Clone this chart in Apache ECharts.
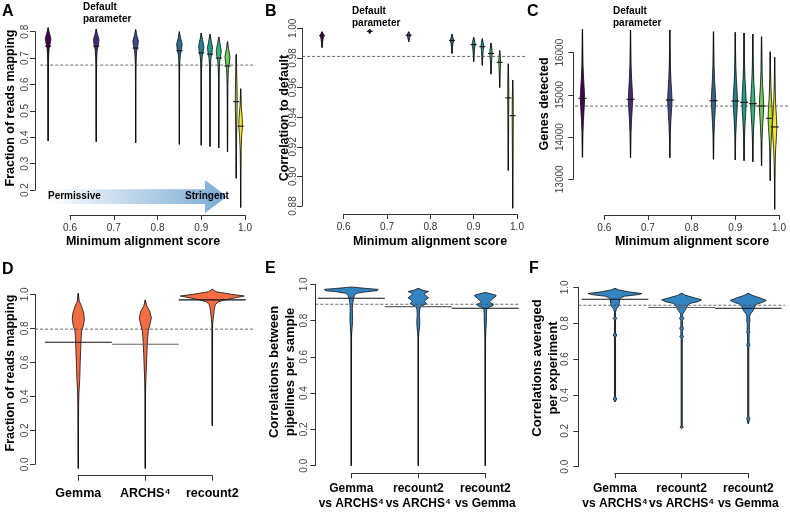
<!DOCTYPE html>
<html><head><meta charset="utf-8">
<script src="https://cdn.jsdelivr.net/npm/echarts@6/dist/echarts.min.js"></script>
<style>html,body{margin:0;padding:0;background:#fff}#c{width:790px;height:513px}</style>
</head><body><div id="c"></div>
<script>
// ---------- DATA ----------
const viridis = ['#440154','#482878','#3E4A89','#31688E','#26828E','#1F9E89','#35B779','#6DCD59','#B4DE2C','#FDE725'];
const scoreX = [0.55,0.66,0.75,0.85,0.9,0.92,0.94,0.96,0.98,0.99];
const scoreTicks = [0.6,0.7,0.8,0.9,1.0];

// Panel A: fraction of reads mapping
const mapMin = [0.386,0.383,0.379,0.373,0.370,0.365,0.360,0.345,0.245,0.134];
const mapMax = [0.815,0.810,0.808,0.800,0.795,0.790,0.780,0.762,0.714,0.584];
const mapMed = [0.745,0.745,0.738,0.728,0.720,0.715,0.700,0.670,0.535,0.442];
const mapProf = [
  [[.815,0],[.795,.45],[.775,1],[.755,.75],[.735,.35],[.71,.2],[.68,.1],[.6,.05],[.45,.03],[.386,0]],
  [[.81,0],[.79,.45],[.77,1],[.75,.75],[.73,.35],[.705,.2],[.675,.1],[.6,.05],[.45,.03],[.383,0]],
  [[.808,0],[.785,.45],[.765,1],[.745,.75],[.725,.35],[.7,.2],[.67,.1],[.6,.05],[.45,.03],[.379,0]],
  [[.8,0],[.775,.45],[.752,1],[.732,.75],[.712,.35],[.69,.2],[.66,.1],[.59,.05],[.45,.03],[.373,0]],
  [[.795,0],[.77,.45],[.745,.95],[.725,.7],[.705,.35],[.68,.2],[.65,.1],[.58,.05],[.45,.03],[.37,0]],
  [[.79,0],[.765,.45],[.74,.9],[.72,.7],[.70,.35],[.675,.2],[.645,.1],[.57,.05],[.45,.03],[.365,0]],
  [[.78,0],[.755,.45],[.728,.9],[.708,.7],[.688,.35],[.66,.2],[.63,.1],[.56,.05],[.45,.03],[.36,0]],
  [[.762,0],[.735,.4],[.705,.9],[.685,.7],[.66,.35],[.63,.2],[.6,.1],[.53,.05],[.42,.03],[.345,0]],
  [[.714,0],[.65,.15],[.58,.3],[.54,.35],[.5,.3],[.42,.15],[.33,.05],[.245,0]],
  [[.584,0],[.52,.2],[.47,.6],[.44,.65],[.41,.4],[.35,.15],[.25,.05],[.134,0]]
];
const mapRef = 0.6735;

// Panel B: correlation to default
const corMin = [0.987,0.9965,0.991,0.983,0.9775,0.975,0.969,0.960,0.904,0.8785];
const corMax = [0.9977,0.9995,0.9977,0.996,0.994,0.993,0.990,0.985,0.976,0.965];
const corMed = [0.995,0.998,0.9953,0.9917,0.989,0.9876,0.983,0.977,0.953,0.941];
const corProf = [
  [[.9977,0],[.9965,.6],[.995,1],[.993,.6],[.99,.25],[.987,0]],
  [[.9995,0],[.998,1],[.9965,0]],
  [[.9977,0],[.9965,.6],[.9953,1],[.994,.6],[.992,.2],[.991,0]],
  [[.996,0],[.994,.5],[.992,1],[.99,.6],[.987,.25],[.983,0]],
  [[.994,0],[.991,.6],[.989,.9],[.986,.5],[.982,.2],[.9775,0]],
  [[.993,0],[.99,.5],[.988,.8],[.985,.5],[.98,.2],[.975,0]],
  [[.99,0],[.986,.5],[.983,.7],[.979,.4],[.974,.15],[.969,0]],
  [[.985,0],[.98,.4],[.977,.5],[.972,.3],[.965,.1],[.96,0]],
  [[.976,0],[.965,.2],[.953,.3],[.94,.2],[.92,.1],[.904,0]],
  [[.965,0],[.953,.2],[.941,.3],[.925,.2],[.9,.08],[.8785,0]]
];
const corRef = 0.981;

// Panel C: genes detected
const genMin = [13521,13513,13513,13474,13458,13442,13418,13324,12968,12290];
const genMax = [16553,16537,16537,16497,16482,16466,16442,16379,16024,15890];
const genMed = [14918,14895,14879,14863,14855,14824,14792,14737,14445,14240];
const genProf = [
  [[16553,0],[16100,.1],[15700,.25],[15400,.5],[15100,.85],[14918,1],[14700,.8],[14400,.45],[14100,.2],[13800,.08],[13521,0]],
  [[16537,0],[16100,.1],[15700,.25],[15380,.5],[15080,.85],[14895,1],[14680,.8],[14380,.45],[14080,.2],[13780,.08],[13513,0]],
  [[16537,0],[16100,.1],[15700,.25],[15360,.5],[15060,.85],[14879,1],[14660,.8],[14360,.45],[14060,.2],[13760,.08],[13513,0]],
  [[16497,0],[16080,.1],[15680,.25],[15350,.5],[15050,.85],[14863,1],[14650,.8],[14350,.45],[14050,.2],[13750,.08],[13474,0]],
  [[16482,0],[16070,.1],[15670,.25],[15340,.5],[15040,.85],[14855,1],[14640,.8],[14340,.45],[14040,.2],[13740,.08],[13458,0]],
  [[16466,0],[16050,.1],[15650,.25],[15310,.5],[15010,.85],[14824,1],[14610,.8],[14310,.45],[14010,.2],[13710,.08],[13442,0]],
  [[16442,0],[16020,.1],[15620,.25],[15280,.5],[14980,.85],[14792,1],[14580,.8],[14280,.45],[13980,.2],[13680,.08],[13418,0]],
  [[16379,0],[15970,.1],[15570,.25],[15230,.5],[14930,.85],[14737,1],[14520,.8],[14220,.45],[13920,.2],[13620,.08],[13324,0]],
  [[16024,0],[15700,.1],[15300,.25],[14950,.5],[14650,.85],[14445,1],[14230,.8],[13930,.45],[13630,.2],[13300,.08],[12968,0]],
  [[15890,0],[15500,.1],[15100,.25],[14750,.5],[14450,.85],[14240,1],[14000,.8],[13700,.45],[13350,.2],[12900,.08],[12290,0]]
];
const genRef = 14735;

// Panel D: fraction of reads mapping per pipeline
const pipeCats = ['Gemma','ARCHS⁴','recount2'];
const pipePos = [1,2,3];
const pipeMin = [-0.024,-0.024,0.227];
const pipeMax = [1.006,0.967,1.03];
const pipeMean = [0.718,0.706,0.967];
const pipeProf = [
  [[1.005,0],[.96,.03],[.93,.1],[.89,.17],[.85,.19],[.81,.15],[.78,.1],[.74,.09],[.7,.08],[.6,.06],[.5,.045],[.42,.02],[.35,.01],[-.024,0]],
  [[.967,0],[.93,.05],[.9,.14],[.86,.19],[.82,.14],[.78,.09],[.73,.07],[.65,.05],[.55,.03],[.48,.015],[.4,.005],[-.024,0]],
  [[1.03,0],[1.015,.12],[1.0,.6],[.99,1.0],[.975,.6],[.965,.35],[.955,.18],[.94,.1],[.92,.07],[.89,.05],[.86,.03],[.82,.01],[.227,0]]
];
const pipeRef = 0.795;

// Panel E: correlations between pipelines per sample
const pairCats = ['Gemma\nvs ARCHS⁴','recount2\nvs ARCHS⁴','recount2\nvs Gemma'];
const sampMin = [0,0,0];
const sampMax = [0.985,0.978,0.955];
const sampMean = [0.923,0.877,0.868];
const sampProf = [
  [[.985,0],[.978,.5],[.972,1.0],[.965,.95],[.958,.5],[.95,.2],[.94,.12],[.92,.08],[.9,.06],[.87,.04],[.84,.045],[.8,.05],[.76,.03],[.72,.01],[0,0]],
  [[.978,0],[.968,.15],[.96,.38],[.952,.25],[.945,.22],[.935,.3],[.925,.38],[.915,.28],[.905,.22],[.895,.3],[.885,.2],[.875,.08],[.86,.05],[.83,.04],[.8,.055],[.77,.05],[.73,.02],[.7,.005],[0,0]],
  [[.955,0],[.948,.2],[.94,.4],[.932,.38],[.925,.3],[.915,.25],[.905,.15],[.897,.2],[.89,.3],[.882,.28],[.872,.1],[.86,.05],[.83,.04],[.8,.04],[.75,.025],[.7,.01],[0,0]]
];
const sampRef = 0.89;

// Panel F: correlations averaged per experiment
const expMin = [0.362,0.214,0.24];
const expMax = [0.994,0.967,0.967];
const expMean = [0.933,0.887,0.883];
const expProf = [
  [[.994,0],[.985,.15],[.975,.5],[.965,1.0],[.958,.8],[.95,.35],[.94,.2],[.93,.17],[.91,.16],[.895,.14],[.88,.05],[.86,.02],[.835,.02],[.827,.07],[.818,.02],[.745,.02],[.734,.07],[.722,.02],[.39,.02],[.377,.07],[.362,0]],
  [[.967,0],[.955,.15],[.94,.5],[.93,.74],[.92,.6],[.91,.3],[.9,.22],[.885,.18],[.87,.12],[.855,.05],[.84,.03],[.827,.08],[.815,.03],[.785,.03],[.77,.07],[.76,.03],[.735,.03],[.725,.07],[.715,.02],[.23,.02],[.22,.06],[.214,0]],
  [[.967,0],[.955,.15],[.94,.45],[.927,.67],[.915,.5],[.905,.3],[.895,.25],[.885,.22],[.87,.18],[.855,.1],[.84,.05],[.81,.06],[.8,.04],[.76,.04],[.75,.06],[.74,.03],[.69,.03],[.678,.06],[.665,.02],[.28,.02],[.27,.06],[.24,0]]
];
const expRef = 0.90;

// ---------- CHART ----------
const FONT = '"Liberation Sans", Arial, sans-serif';
const chart = echarts.init(document.getElementById('c'), null, {renderer:'canvas'});
const meanColors = ['#111','#666','#111'];

function violin(idx, xs, mins, maxs, meds, profs, colors, halfPx, medHalfPx, medHalfData) {
  return {
    type:'custom', xAxisIndex:idx, yAxisIndex:idx, clip:false, silent:true,
    data: xs.map((x,i)=>[x, mins[i], maxs[i], meds[i], i]),
    renderItem: function(params, api){
      const i = api.value(4), x = api.value(0);
      const top = api.coord([x, api.value(2)]), bot = api.coord([x, api.value(1)]);
      const cx = top[0];
      const prof = profs[i];
      const left = prof.map(p => [cx - p[1]*halfPx, api.coord([x,p[0]])[1]]);
      const right = prof.slice().reverse().map(p => [cx + p[1]*halfPx, api.coord([x,p[0]])[1]]);
      let m1, m2, mc = '#111';
      if (medHalfData) {
        m1 = api.coord([x-medHalfData, api.value(3)]); m2 = api.coord([x+medHalfData, api.value(3)]);
        mc = meanColors[i];
      } else {
        const m = api.coord([x, api.value(3)]); m1 = [m[0]-medHalfPx, m[1]]; m2 = [m[0]+medHalfPx, m[1]];
      }
      return {type:'group', children:[
        {type:'line', shape:{x1:cx,y1:top[1],x2:cx,y2:bot[1]}, style:{stroke:'#111', lineWidth:1.3}},
        {type:'polygon', shape:{points:left.concat(right)}, style:{fill:colors[i], stroke:'#111', lineWidth:0.8}},
        {type:'line', shape:{x1:m1[0],y1:m1[1],x2:m2[0],y2:m2[1]}, style:{stroke:mc, lineWidth:1.1}}
      ]};
    }
  };
}
function refLine(idx, x0, x1, y) {
  return {
    type:'custom', xAxisIndex:idx, yAxisIndex:idx, clip:false, silent:true, z:5,
    data:[[x0,x1,y]],
    renderItem: function(params, api){
      const a = api.coord([api.value(0), api.value(2)]), b = api.coord([api.value(1), api.value(2)]);
      return {type:'line', shape:{x1:a[0],y1:a[1],x2:b[0],y2:b[1]}, style:{stroke:'#444', lineWidth:0.8, lineDash:[3,2]}};
    }
  };
}
function xAx(idx, min, max, interval, offset, fmt) {
  return {
    gridIndex:idx, type:'value', min:min, max:max, interval:interval, offset:offset,
    axisLine:{show:true, onZero:false, lineStyle:{color:'#333', width:1}},
    axisTick:{show:true, length:5, lineStyle:{color:'#333'}},
    axisLabel:{formatter:fmt, fontSize:10, color:'#333', margin:8, fontFamily:FONT},
    splitLine:{show:false}
  };
}
function hiddenX(idx) {
  return {gridIndex:idx, type:'value', min:1, max:3, show:false, splitLine:{show:false}};
}
function catX(idx, cats, offset, margin, size) {
  return {
    gridIndex:idx, type:'category', data:cats, boundaryGap:false, offset:offset, position:'bottom',
    axisLine:{show:true, onZero:false, lineStyle:{color:'#333', width:1}},
    axisTick:{show:true, length:5, interval:0, lineStyle:{color:'#333'}},
    axisLabel:{interval:0, fontSize:size, fontWeight:'bold', color:'#000', fontFamily:FONT, lineHeight:15, margin:margin},
    splitLine:{show:false}
  };
}
function yAx(idx, min, max, interval, offset, fmt, margin) {
  return {
    gridIndex:idx, type:'value', min:min, max:max, interval:interval, offset:offset,
    axisLine:{show:true, onZero:false, lineStyle:{color:'#333', width:1}},
    axisTick:{show:true, length:5, lineStyle:{color:'#333'}},
    axisLabel:{formatter:fmt, fontSize:10, color:'#444', margin:margin, rotate:90, fontFamily:FONT},
    splitLine:{show:false}
  };
}
const f1 = v => v.toFixed(1), f2 = v => v.toFixed(2), f0 = v => String(Math.round(v));

function txt(x, y, s, size) {
  return {type:'text', x:x, y:y, silent:true,
    style:{text:s, font:'bold '+size+'px '+FONT, fill:'#000', textAlign:'left', textVerticalAlign:'top', align:'left', verticalAlign:'top'}};
}
function vtxt(x, y, s, size) {
  return {type:'text', x:x, y:y, rotation:Math.PI/2, silent:true,
    style:{text:s, font:'bold '+size+'px '+FONT, fill:'#000', textAlign:'center', textVerticalAlign:'middle', align:'center', verticalAlign:'middle', lineHeight:16}};
}
function ctxt(x, y, s, size) {
  return {type:'text', x:x, y:y, silent:true,
    style:{text:s, font:'bold '+size+'px '+FONT, fill:'#000', textAlign:'center', textVerticalAlign:'middle', align:'center', verticalAlign:'middle'}};
}

const option = {
  animation:false,
  backgroundColor:'#fff',
  grid:[
    {left:70, top:31.7, width:175, height:158.4},
    {left:343.7, top:28.3, width:173.3, height:177.7},
    {left:604.3, top:52.7, width:174.7, height:126.6},
    {left:78.3, top:294.3, width:134, height:170},
    {left:351.3, top:284.3, width:134, height:181.4},
    {left:615, top:287.3, width:133.3, height:179.4}
  ],
  xAxis:[
    xAx(0, 0.6, 1.0, 0.1, 25, f1),
    xAx(1, 0.6, 1.0, 0.1, 8, f1),
    xAx(2, 0.6, 1.0, 0.1, 35.7, f1),
    hiddenX(3), hiddenX(4), hiddenX(5),
    catX(3, pipeCats, 11.4, 10, 12.5),
    catX(4, pairCats, 7.6, 8, 12),
    catX(5, pairCats, 6.6, 8, 12)
  ],
  yAxis:[
    yAx(0, 0.2, 0.8, 0.1, 35, f1, 5),
    yAx(1, 0.88, 1.0, 0.02, 41.7, f2, 4),
    yAx(2, 13000, 16000, 1000, 31, f0, 8),
    yAx(3, 0, 1, 0.2, 43.3, f1, 5),
    yAx(4, 0, 1, 0.2, 36, f1, 6),
    yAx(5, 0, 1, 0.2, 36.7, f1, 8)
  ],
  series:[
    violin(0, scoreX, mapMin, mapMax, mapMed, mapProf, viridis, 2.8, 3),
    refLine(0, 0.532, 1.018, mapRef),
    violin(1, scoreX, corMin, corMax, corMed, corProf, viridis, 1.8, 3),
    refLine(1, 0.504, 1.019, corRef),
    violin(2, scoreX, genMin, genMax, genMed, genProf, viridis, 2.2, 4),
    refLine(2, 0.533, 1.03, genRef),
    violin(3, pipePos, pipeMin, pipeMax, pipeMean, pipeProf, ['#F46D43','#F46D43','#F46D43'], 32, 0, 0.5),
    refLine(3, 0.354, 3.64, pipeRef),
    violin(4, pipePos, sampMin, sampMax, sampMean, sampProf, ['#3385C2','#3385C2','#3385C2'], 27, 0, 0.5),
    refLine(4, 0.463, 3.5, sampRef),
    violin(5, pipePos, expMin, expMax, expMean, expProf, ['#3385C2','#3385C2','#3385C2'], 27, 0, 0.5),
    refLine(5, 0.45, 3.55, expRef)
  ],
  graphic:[
    {type:'polygon', silent:true, z:-1,
     shape:{points:[[45,189.3],[205,189.3],[205,180],[227,196.5],[205,213],[205,204],[45,204]]},
     style:{fill:new echarts.graphic.LinearGradient(0,0,1,0,[{offset:0,color:'#FFFFFF'},{offset:1,color:'#78A9D3'}])}},
    txt(48, 191, 'Permissive', 10),
    txt(185, 191, 'Stringent', 10),
    txt(2, 4, 'A', 16), txt(265, 4, 'B', 16), txt(527, 4, 'C', 16),
    txt(2, 262, 'D', 16), txt(265, 261, 'E', 16), txt(529, 261, 'F', 16),
    txt(83, 2, 'Default', 10), txt(83, 14, 'parameter', 10),
    txt(352, 6, 'Default', 10), txt(352, 18, 'parameter', 10),
    txt(613, 6, 'Default', 10), txt(613, 18, 'parameter', 10),
    vtxt(11, 108, 'Fraction of reads mapping', 12.5),
    vtxt(285, 118, 'Correlation to default', 12.5),
    vtxt(545, 104, 'Genes detected', 12.5),
    vtxt(11, 373, 'Fraction of reads mapping', 12.5),
    vtxt(282, 372, 'Correlations between\npipelines per sample', 13),
    vtxt(545, 368, 'Correlations averaged\nper experiment', 13),
    ctxt(143, 242, 'Minimum alignment score', 12.5),
    ctxt(430, 242, 'Minimum alignment score', 12.5),
    ctxt(692, 242, 'Minimum alignment score', 12.5)
  ]
};
chart.setOption(option);
</script>
</body></html>
